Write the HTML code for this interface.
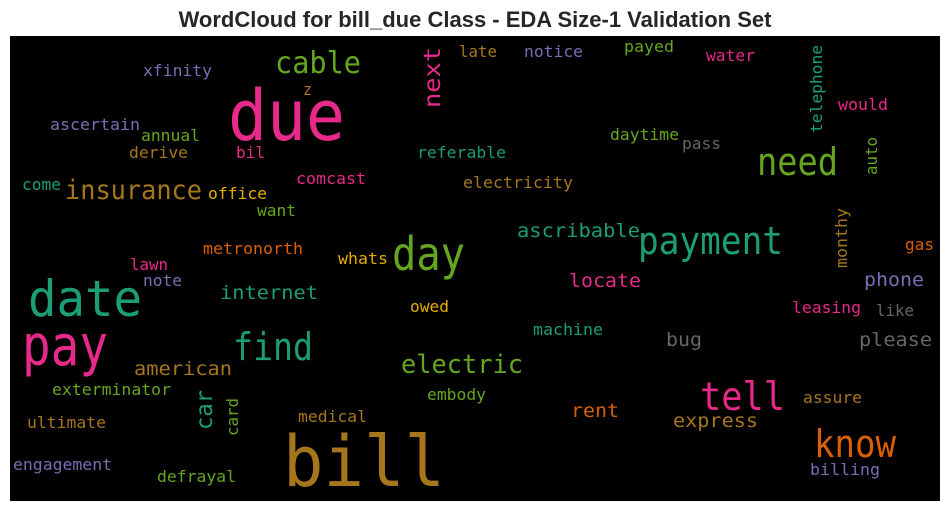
<!DOCTYPE html>
<html><head><meta charset="utf-8"><style>
html,body{margin:0;padding:0;background:#fff;}
svg{display:block;}
</style></head><body>
<svg id="wc" width="950" height="511" viewBox="0 0 950 511" xmlns="http://www.w3.org/2000/svg">
<text x="475" y="27" text-anchor="middle" font-family="Liberation Sans, Arial, sans-serif" font-weight="bold" font-size="22" fill="#262626">WordCloud for bill_due Class - EDA Size-1 Validation Set</text>
<rect x="10" y="36" width="930" height="465" fill="#000"/>
<g id="words"></g>
</svg>
<script>
const words = ["due","bill","date","pay","day","payment","need","tell","know","find","cable","insurance","electric","next","telephone","auto","monthy","car","card","xfinity","z","ascertain","annual","derive","bil","come","office","comcast","want","metronorth","lawn","note","internet","whats","owed","american","exterminator","ultimate","engagement","defrayal","medical","embody","late","notice","payed","water","would","daytime","pass","referable","electricity","ascribable","gas","locate","phone","leasing","like","machine","bug","please","rent","express","assure","billing"];
const xs = [228,283,28,22,392,638,757,700,814,233,275,65,401,440,822,877,847,212,238,143,303,50,141,129,236,22,208,296,257,203,130,143,220,338,410,134,52,27,13,157,298,427,459,524,624,706,838,610,682,417,463,517,905,569,864,792,876,533,666,859,571,673,803,810];
const ys = [140,486,316,365,270,254,175,410,457,360,73,199,373,108,133,175,268,430,436,76,95,130,141,158,158,190,199,184,216,254,270,286,299,264,312,375,395,428,470,482,422,400,57,57,52,61,110,140,149,158,188,237,250,287,286,313,316,335,346,346,417,427,403,475];
const lens = [117,162,114,86,73,145,81,85,82,80,86,137,122,61,88,38,60,40,38,69,9,90,59,59,29,39,59,70,39,100,38,39,98,50,39,98,119,79,99,79,69,59,38,59,50,49,50,69,39,89,110,123,29,72,60,69,38,70,36,73,48,85,59,70];
const sizes = [70,70,50,56,46,38,38,39,38,38,30,27,26,23,16,16,16,23,16,16,16,16,16,16,16,16,16,16,16,16,16,16,19,16,16,19,16,16,16,16,16,16,16,16,16,16,16,16,16,16,16,19,16,19,19,16,16,16,19,19,19,19,16,16];
const colors = ["#e7298a","#a6761d","#1b9e77","#e7298a","#66a61e","#1b9e77","#66a61e","#e7298a","#d95f02","#1b9e77","#66a61e","#a6761d","#66a61e","#e7298a","#1b9e77","#66a61e","#a6761d","#1b9e77","#66a61e","#7570b3","#a6761d","#7570b3","#66a61e","#a6761d","#e7298a","#1b9e77","#e6ab02","#e7298a","#66a61e","#d95f02","#e7298a","#7570b3","#1b9e77","#e6ab02","#e6ab02","#a6761d","#66a61e","#a6761d","#7570b3","#66a61e","#a6761d","#66a61e","#a6761d","#7570b3","#66a61e","#e7298a","#e7298a","#66a61e","#666666","#1b9e77","#a6761d","#1b9e77","#d95f02","#e7298a","#7570b3","#e7298a","#666666","#1b9e77","#666666","#666666","#d95f02","#a6761d","#a6761d","#7570b3"];
const vertical = ["next","telephone","auto","monthy","car","card"];
const g = document.getElementById('words');
const NS = 'http://www.w3.org/2000/svg';
words.forEach((w,i)=>{
  const t = document.createElementNS(NS,'text');
  
  
  t.setAttribute('font-family','DejaVu Sans Mono, Liberation Mono, monospace');
  t.setAttribute('font-size', sizes[i]);
  t.setAttribute('fill', colors[i]);
  t.setAttribute('textLength', lens[i]);
  t.setAttribute('lengthAdjust','spacingAndGlyphs');
  if (vertical.includes(w)) {
    t.setAttribute('x',0); t.setAttribute('y',0);
    t.setAttribute('transform','translate('+xs[i]+','+ys[i]+') rotate(-90)');
  } else {
    t.setAttribute('x', xs[i]); t.setAttribute('y', ys[i]);
  }
  t.textContent = w;
  g.appendChild(t);
});
</script>
</body></html>
